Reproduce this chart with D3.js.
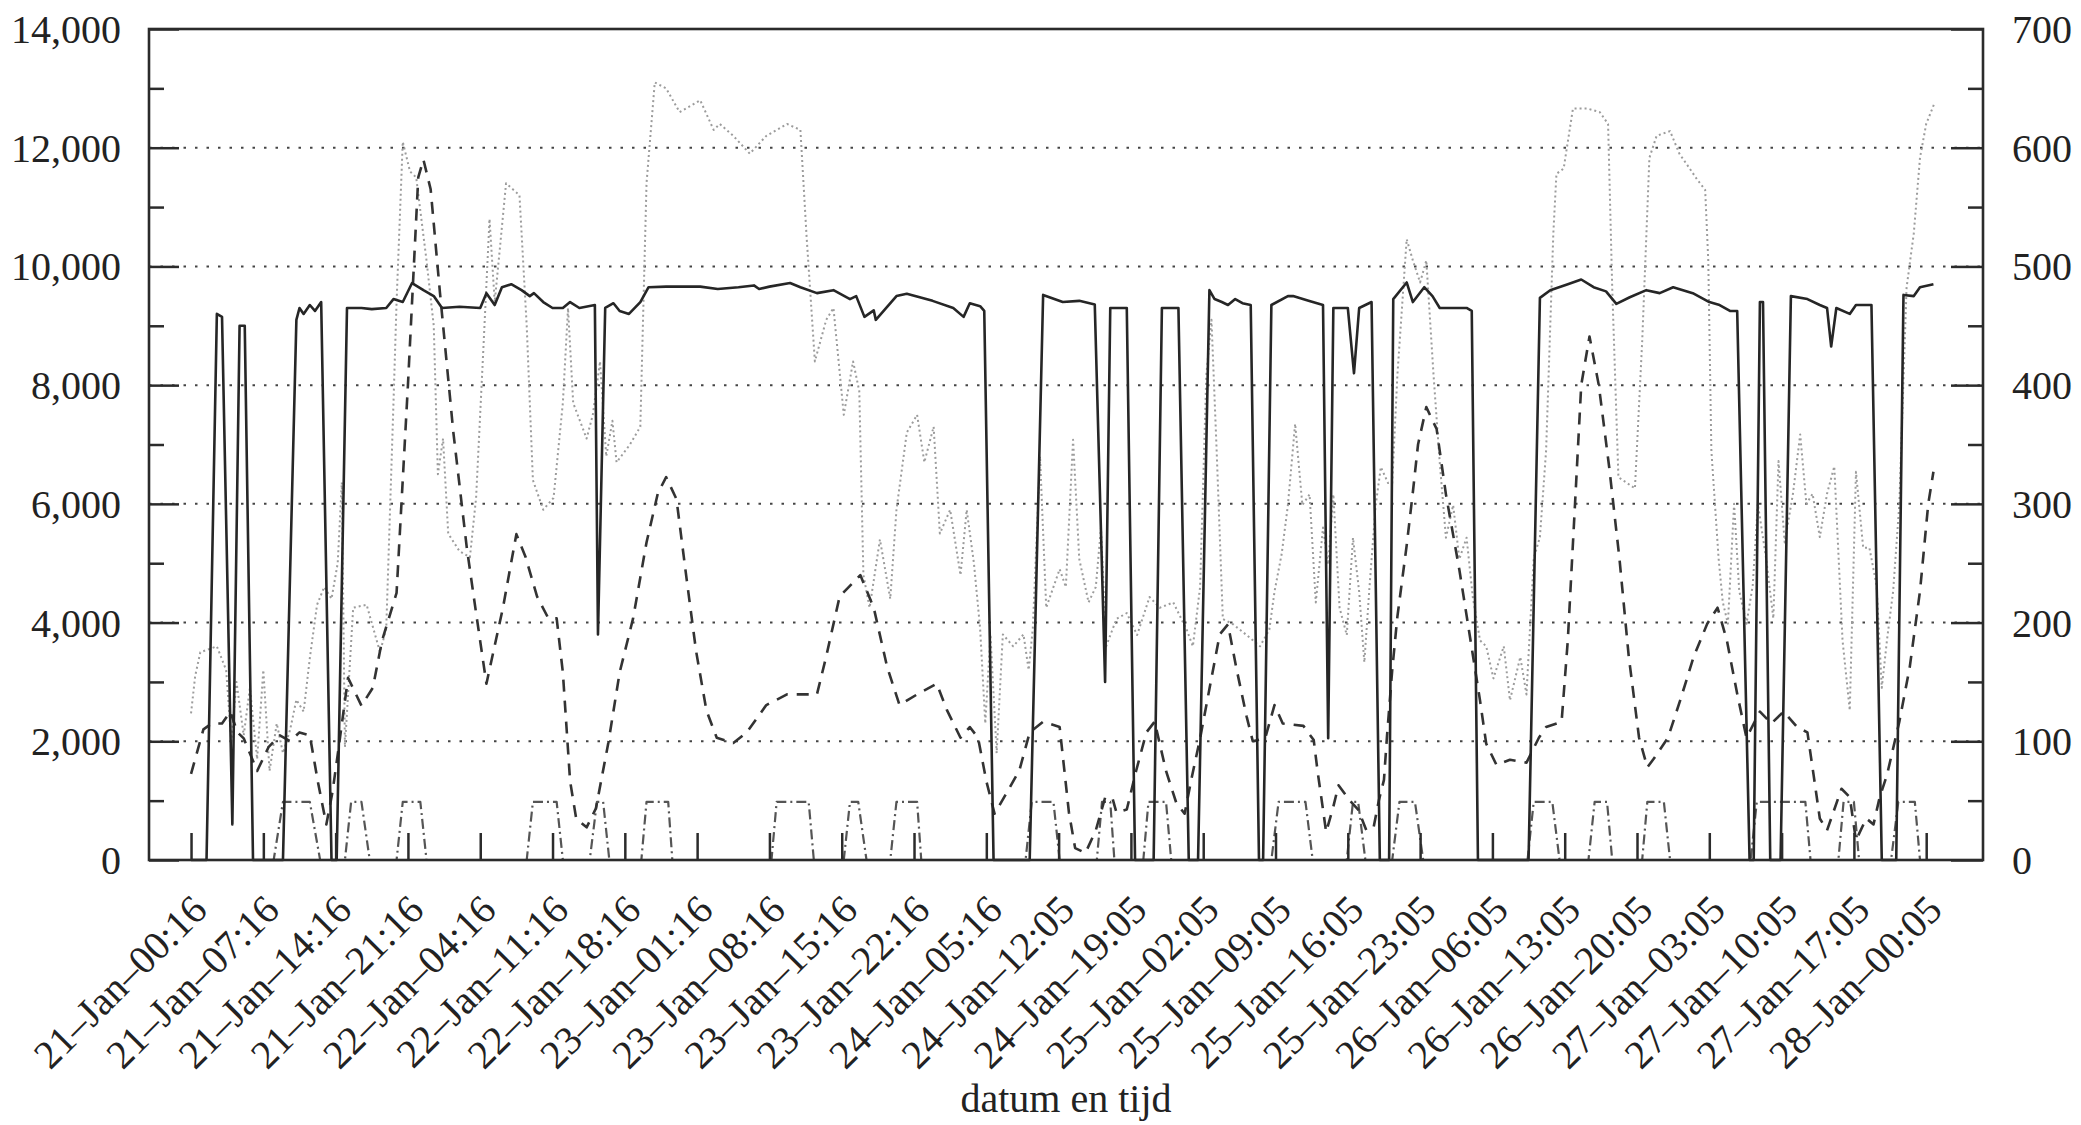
<html>
<head>
<style>
    body { margin:0; background:white; }
    text { font-family:"Liberation Serif", "DejaVu Serif", serif; fill:#222; }
</style>
</head>
<body>
<svg id="plot"></svg>
<script src="https://d3js.org/d3.v7.min.js"></script>
<script>

// hours since 21-Jan-00:16, one tick every 7 hours
var tickHours = [0,7,14,21,28,35,42,49,56,63,70,77,84,91,98,105,112,119,126,133,140,147,154,161,168];
var tickLabels = ["21–Jan–00:16","21–Jan–07:16","21–Jan–14:16","21–Jan–21:16",
    "22–Jan–04:16","22–Jan–11:16","22–Jan–18:16","23–Jan–01:16","23–Jan–08:16",
    "23–Jan–15:16","23–Jan–22:16","24–Jan–05:16","24–Jan–12:05","24–Jan–19:05",
    "25–Jan–02:05","25–Jan–09:05","25–Jan–16:05","25–Jan–23:05","26–Jan–06:05",
    "26–Jan–13:05","26–Jan–20:05","27–Jan–03:05","27–Jan–10:05","27–Jan–17:05",
    "28–Jan–00:05"];

var leftTicks = [0,2000,4000,6000,8000,10000,12000,14000];
var rightTicks = [0,100,200,300,400,500,600,700];

// [hour, value] – solid line (left axis)
var solid = [[0,0],[1.5,0],[2.5,9200],[3.0,9150],[4.0,600],[4.7,9000],[5.2,9000],[6.0,0],[8.9,0],
    [10.2,9100],[10.5,9300],[10.9,9200],[11.5,9350],[12.0,9250],[12.6,9400],[13.6,0],[14.1,0],
    [15.1,9300],[16.5,9300],[17.5,9280],[18.9,9300],[19.6,9450],[20.5,9400],[21.4,9720],[22.5,9600],
    [23.5,9500],[24.3,9300],[26,9320],[28,9300],[28.6,9550],[29.4,9350],[30.1,9650],[31,9700],
    [32,9600],[32.8,9500],[33.2,9550],[34.1,9400],[35,9300],[36,9300],[36.7,9400],[37.6,9300],
    [39.1,9350],[39.4,3800],[40.1,9300],[40.9,9380],[41.5,9250],[42.4,9200],[43.5,9400],[44.3,9650],
    [46,9660],[49.3,9660],[51,9620],[53,9650],[54.5,9680],[55,9620],[56,9660],[58,9720],[59,9650],
    [60.6,9550],[62.2,9600],[63.8,9450],[64.4,9500],[65.2,9150],[66.1,9260],[66.3,9100],[68.3,9500],
    [69.3,9540],[71.8,9420],[73.8,9300],[74.8,9150],[75.4,9380],[76.4,9330],[76.8,9250],[77.7,0],
    [81.2,0],[82.5,9520],[84.4,9400],[86,9420],[87.5,9360],[88.5,3000],[89,9300],[90.6,9300],
    [91.4,0],[93.2,0],[94,9300],[95.6,9300],[96.6,0],[97.5,0],[98.6,9600],[99.1,9450],[99.8,9400],
    [100.4,9350],[101.1,9450],[101.8,9380],[102.6,9350],[103.4,0],[103.8,0],[104.6,9350],[106.2,9500],
    [106.7,9500],[108.2,9420],[109.6,9350],[110.1,2050],[110.6,9300],[112,9300],[112.6,8200],
    [113.1,9300],[114.3,9400],[115.1,0],[116,0],[116.4,9450],[117.7,9730],[118.3,9400],[119.4,9650],
    [120.2,9500],[120.9,9300],[123.5,9300],[124,9250],[124.6,0],[129.5,0],[130.6,9470],[131.6,9600],
    [133.3,9700],[134.6,9780],[135.8,9650],[137,9580],[138,9370],[139.3,9480],[140.9,9600],
    [142.2,9550],[143.5,9650],[145.4,9550],[147,9400],[148,9350],[149,9250],[149.7,9250],[150.9,0],
    [151.3,0],[151.9,9400],[152.2,9400],[152.9,0],[153.9,0],[154.9,9500],[156.5,9450],[157.7,9350],
    [158.4,9300],[158.8,8650],[159.3,9300],[160.6,9200],[161.2,9350],[162.7,9350],[163.7,0],
    [165.1,0],[165.8,9520],[166.8,9500],[167.4,9650],[168.7,9700]];

// [hour, value] – dashed line
var dashed = [[0,1450],[1.2,2200],[2,2300],[3,2300],[3.8,2500],[4.5,2150],[5.1,2050],[6.4,1500],
    [7.5,1900],[8.6,2100],[9.6,2000],[10.5,2150],[11.5,2100],[12.3,1300],[13.1,600],[13.7,1150],
    [14.3,1900],[15.2,3070],[16.5,2600],[17.6,2900],[18.5,3700],[19.9,4500],[21,8000],[22,11500],
    [22.5,11800],[23.2,11300],[24.1,9560],[25.4,7200],[26.7,5260],[27.6,4160],[28.6,2970],
    [30.2,4250],[31.5,5490],[32.4,5100],[33.5,4440],[34.6,4070],[35.4,4070],[36,3160],[36.7,1330],
    [37.3,690],[38.3,550],[39.2,870],[40.4,1970],[41.5,3160],[42.8,4070],[44.1,5350],[45.2,6180],
    [46,6450],[47,6080],[48,4710],[48.9,3520],[49.9,2520],[50.9,2060],[52.5,1970],[53.8,2150],
    [55.7,2610],[57.7,2790],[60.6,2790],[61.5,3430],[62.8,4440],[64.8,4800],[66.1,4250],[67.4,3250],
    [68.6,2610],[70.3,2790],[72.2,2970],[73.2,2520],[74.5,2060],[75.4,2240],[76.2,2060],[77,1330],
    [77.8,780],[79,1140],[80.2,1510],[81.2,2150],[82.5,2330],[84.1,2240],[85,800],[85.6,200],
    [86.6,120],[87.6,500],[88.5,1050],[89.2,1050],[89.6,800],[90.6,850],[91.5,1500],[92.5,2150],
    [93.3,2330],[94.4,1500],[95.4,960],[96.2,780],[96.9,1400],[97.7,2050],[98.6,2880],[99.6,3800],
    [100.4,3970],[101.2,3240],[102.2,2420],[102.8,2000],[104,2050],[104.9,2610],[105.7,2300],
    [107.7,2260],[108.7,2020],[109.1,1460],[109.6,850],[109.9,470],[110.6,900],[111.1,1260],
    [112.2,1000],[113,850],[113.8,500],[114.5,550],[115,1000],[115.5,1350],[115.8,2100],[116.3,3200],
    [116.8,4100],[117.7,5300],[118.3,6200],[118.8,7000],[119.6,7630],[120.6,7260],[121.5,6160],
    [122.8,4890],[123.8,3790],[124.8,2690],[125.4,1960],[126.4,1600],[127.7,1690],[129.3,1640],
    [130.5,2060],[131.2,2240],[132.7,2330],[133.3,3700],[134,6000],[134.6,8000],[135.4,8820],
    [136.3,8000],[137.3,6630],[138.3,5080],[139.2,3430],[140.2,2060],[141,1560],[141.6,1700],
    [143,2060],[144.2,2700],[145.5,3430],[146.8,3980],[147.8,4250],[148.7,3700],[149.7,2800],
    [150.6,2060],[151.9,2500],[153,2300],[154.2,2500],[155.5,2240],[156.5,2150],[157.1,1430],
    [157.7,700],[158.4,500],[159,800],[159.8,1200],[160.6,1060],[161.2,330],[162.2,700],[162.9,600],
    [163.5,1060],[164.2,1430],[165.4,2330],[166.4,3240],[167.4,4530],[168.2,6000],[168.7,6540]];

// [hour, value] – light dotted line
var dotted = [[0,2470],[0.4,3100],[0.9,3500],[2.5,3600],[3.4,3200],[3.9,2000],[4.4,3000],[5.1,2100],
    [5.7,2900],[6.4,1700],[7,3200],[7.6,1500],[8.3,2300],[8.9,1800],[9.6,2200],[10.2,2700],
    [10.9,2500],[11.5,3400],[12.2,4300],[12.9,4600],[13.6,4400],[14.2,5000],[14.6,6360],[14.9,1900],
    [15.7,4250],[17,4300],[18.3,3500],[18.9,3900],[19.6,7700],[19.9,9400],[20.5,12100],[21.2,11600],
    [21.8,11500],[22.8,10100],[23.5,9000],[23.9,6500],[24.4,7100],[24.9,5500],[26,5200],[27,5100],
    [27.6,6100],[28.3,8600],[28.9,10800],[29.4,9400],[29.9,10300],[30.5,11400],[31.8,11200],
    [32.5,9000],[33.1,6400],[34.1,5900],[35.1,6100],[36,7700],[36.5,9300],[37,7700],[38.3,7100],
    [38.9,7500],[39.6,8400],[40.2,6800],[40.8,7400],[41.2,6700],[42.5,7000],[43.5,7300],[44.1,11400],
    [44.9,13100],[46,13000],[47.3,12600],[49.3,12800],[50.6,12300],[51.2,12400],[52.5,12200],
    [54.1,11900],[55.7,12200],[57.7,12400],[59,12300],[59.6,10500],[60.4,8400],[61.5,9100],
    [62.2,9300],[63.2,7500],[64.1,8400],[64.7,7900],[65.1,4800],[65.7,4250],[66.7,5400],[67.7,4400],
    [68.3,5900],[69.3,7200],[70.3,7500],[71,6700],[71.9,7300],[72.5,5500],[73.5,5900],[74.5,4800],
    [75.1,5900],[75.8,5000],[76.4,3900],[76.9,2300],[77.4,3800],[78,1800],[78.6,3800],[79.6,3600],
    [80.6,3800],[81.1,3200],[81.5,3900],[82.2,6800],[82.8,4250],[84.1,4900],[84.7,4600],[85.4,7080],
    [86,5070],[86.9,4340],[87.6,4600],[88.1,5600],[88.6,3600],[89.6,4060],[90.6,4160],[91.6,3790],
    [92.8,4430],[93.8,4250],[95.1,4340],[96.4,3880],[97,3600],[97.7,4600],[98.3,8170],[98.8,9100],
    [99.3,6900],[99.9,4060],[100.9,3970],[102.2,3790],[103.5,3600],[104.4,3880],[104.9,4520],
    [105.6,5160],[106.2,5980],[106.9,7350],[107.6,5980],[108.3,6160],[108.9,4340],[109.6,5600],
    [110.1,4980],[110.6,6160],[111.2,4250],[111.9,3790],[112.5,5430],[113.1,4520],[113.6,3330],
    [114.1,4600],[114.7,5980],[115.2,6620],[115.9,6350],[116.3,6350],[116.8,8170],[117.7,10460],
    [118.3,10100],[119,9730],[119.6,10100],[120.3,8170],[120.9,6700],[121.5,5430],[122.2,5980],
    [122.8,5070],[123.5,5430],[124.1,4430],[124.8,3700],[125.4,3600],[126.1,3060],[127.1,3600],
    [127.7,2690],[128.7,3420],[129.3,2790],[130,5080],[130.6,5440],[131.2,6900],[131.9,10560],
    [132.2,11560],[132.9,11650],[133.8,12660],[135.2,12660],[136.4,12600],[137.2,12400],[137.6,9640],
    [138.2,6450],[139.8,6260],[140.5,8730],[141.2,11830],[141.9,12200],[143.2,12280],[144.1,11900],
    [145.1,11650],[145.8,11470],[146.6,11290],[146.9,10100],[147.2,6900],[147.9,5080],[148.3,4350],
    [148.8,3980],[149.4,6000],[149.9,4530],[150.6,3980],[151.2,4620],[151.7,6000],[152.5,5080],
    [153.2,4070],[153.7,6720],[154.3,5350],[155.1,6170],[155.8,7170],[156.4,6000],[157,6170],
    [157.7,5440],[158.4,6170],[159.1,6630],[159.9,3700],[160.6,2520],[161.2,6540],[161.9,5260],
    [162.5,5260],[163.2,4620],[163.7,2900],[164.2,3700],[164.8,4530],[165.4,6000],[166.1,9640],
    [166.8,10560],[167.4,11830],[168,12400],[168.8,12750]];

// [hour, value] – dash-dot on/off signal
var pulses = [[0,0],[8,0],[8.9,980],[11.5,980],[12.5,0],[14.9,0],[15.5,980],[16.5,980],[17.3,0],
    [19.9,0],[20.5,980],[22.2,980],[22.8,0],[32.5,0],[33.1,980],[35.4,980],[36,0],[38.6,0],
    [39.3,980],[39.9,980],[40.5,0],[43.6,0],[44.1,980],[46.2,980],[46.6,0],[56.2,0],[56.7,980],
    [59.8,980],[60.3,0],[63.2,0],[63.8,980],[64.6,980],[65.4,0],[67.7,0],[68.3,980],[70.3,980],
    [70.7,0],[80.8,0],[81.4,980],[83.5,980],[84.1,0],[87.7,0],[88.2,980],[89,980],[89.4,0],
    [92.2,0],[92.7,980],[94.4,980],[94.9,0],[104.6,0],[105.3,980],[107.9,980],[108.6,0],
    [111.9,0],[112.5,980],[113,980],[113.7,0],[116.3,0],[117,980],[118.5,980],[119.3,0],
    [129.4,0],[130,980],[131.8,980],[132.5,0],[135.3,0],[135.9,980],[137.1,980],[137.6,0],
    [140.5,0],[141,980],[142.6,980],[143.2,0],[151,0],[151.6,980],[156.3,980],[156.8,0],
    [159.5,0],[160,980],[161,980],[161.5,0],[164.6,0],[165.3,980],[166.9,980],[167.4,0]];


//the size of the screen
var screen = {width:2081, height:1125};

//plot frame in screen pixels
var frame = {left:149, right:1983, top:29, bottom:860};

var xScale = d3.scaleLinear()
    .domain([-4.07,173.5])
    .range([frame.left,frame.right]);

var yScale = d3.scaleLinear()
    .domain([0,14000])
    .range([frame.bottom,frame.top]);

var yRight = d3.scaleLinear()
    .domain([0,700])
    .range([frame.bottom,frame.top]);

var svg = d3.select("#plot")
    .attr("width",screen.width)
    .attr("height",screen.height);

svg.append("rect")
    .attr("width",screen.width)
    .attr("height",screen.height)
    .attr("fill","white");

var drawGrid = function()
{
    svg.append("g")
        .selectAll("line")
        .data([2000,4000,6000,8000,10000,12000])
        .enter()
        .append("line")
        .attr("x1",frame.left)
        .attr("x2",frame.right)
        .attr("y1",function(d){return yScale(d);})
        .attr("y2",function(d){return yScale(d);})
        .attr("stroke","#444")
        .attr("stroke-width",2)
        .attr("stroke-dasharray","2.5,9");
}

var drawSeries = function(data,color,width,dash)
{
    var line = d3.line()
        .x(function(d){return xScale(d[0]);})
        .y(function(d){return yScale(d[1]);});

    svg.append("path")
        .datum(data)
        .attr("d",line)
        .attr("fill","none")
        .attr("stroke",color)
        .attr("stroke-width",width)
        .attr("stroke-linejoin","round")
        .attr("stroke-dasharray",dash);
}

var drawAxes = function()
{
    var tickColor = "#2b2b2b";

    // left axis: long ticks every 2000, short ones in between, pointing inward
    var left = d3.axisRight(yScale)
        .tickValues(d3.range(0,14001,1000))
        .tickSize(15)
        .tickFormat("");
    var gl = svg.append("g")
        .attr("transform","translate("+frame.left+",0)")
        .call(left);
    gl.selectAll(".tick line")
        .attr("x2",function(d){return d%2000==0 ? 30 : 15;});

    // right axis, same idea mirrored
    var right = d3.axisLeft(yRight)
        .tickValues(d3.range(0,701,50))
        .tickSize(15)
        .tickFormat("");
    var gr = svg.append("g")
        .attr("transform","translate("+frame.right+",0)")
        .call(right);
    gr.selectAll(".tick line")
        .attr("x2",function(d){return d%100==0 ? -32 : -15;});

    // bottom ticks point up into the plot
    var bottom = d3.axisTop(xScale)
        .tickValues(tickHours)
        .tickSize(27)
        .tickFormat("");
    svg.append("g")
        .attr("transform","translate(0,"+frame.bottom+")")
        .call(bottom);

    svg.selectAll(".domain").remove();
    svg.selectAll(".tick line")
        .attr("stroke",tickColor)
        .attr("stroke-width",2.5);

    // frame
    svg.append("rect")
        .attr("x",frame.left)
        .attr("y",frame.top)
        .attr("width",frame.right-frame.left)
        .attr("height",frame.bottom-frame.top)
        .attr("fill","none")
        .attr("stroke",tickColor)
        .attr("stroke-width",2.6);

    // tick labels
    svg.append("g")
        .selectAll("text")
        .data(leftTicks)
        .enter()
        .append("text")
        .attr("x",121)
        .attr("y",function(d){return yScale(d);})
        .attr("dy","0.35em")
        .attr("text-anchor","end")
        .attr("font-size",40)
        .text(function(d){return d3.format(",")(d);});

    svg.append("g")
        .selectAll("text")
        .data(rightTicks)
        .enter()
        .append("text")
        .attr("x",2012)
        .attr("y",function(d){return yRight(d);})
        .attr("dy","0.35em")
        .attr("font-size",40)
        .text(function(d){return d;});

    svg.append("g")
        .selectAll("text")
        .data(tickHours)
        .enter()
        .append("text")
        .attr("transform",function(d){return "translate("+(xScale(d)+18)+",912) rotate(-45)";})
        .attr("text-anchor","end")
        .attr("font-size",40)
        .text(function(d,i){return tickLabels[i];});

    svg.append("text")
        .attr("x",(frame.left+frame.right)/2)
        .attr("y",1112)
        .attr("text-anchor","middle")
        .attr("font-size",40)
        .text("datum en tijd");
}

drawGrid();
drawSeries(dotted,"#9c9c9c",2,"2,3");
drawSeries(pulses,"#555",2.2,"10,4,2,4");
drawSeries(dashed,"#333",2.6,"12,9");
drawSeries(solid,"#262626",2.6,null);
drawAxes();

</script>
</body>
</html>
